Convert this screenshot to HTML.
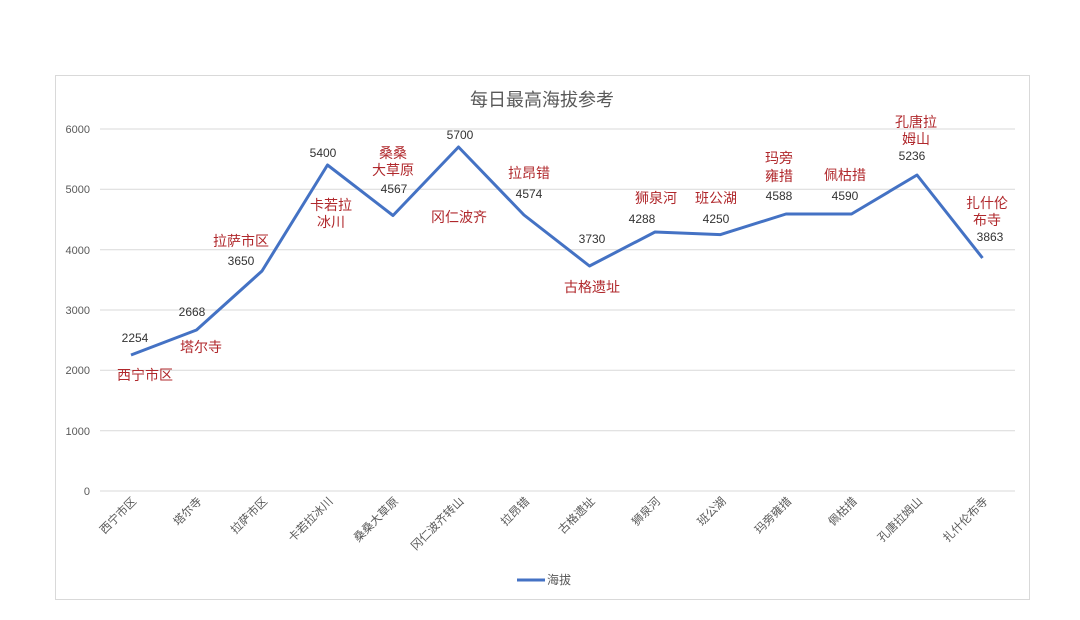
<!DOCTYPE html><html><head><meta charset="utf-8"><style>body{margin:0;background:#fff}svg{display:block;font-family:"Liberation Sans","Noto Sans CJK SC",sans-serif}</style></head><body>
<svg width="1080" height="620" viewBox="0 0 1080 620">
<rect x="55.5" y="75.5" width="974" height="524" fill="#fff" stroke="#d9d9d9"/>
<text x="542" y="106" text-anchor="middle" font-size="18" fill="#595959">每日最高海拔参考</text>
<g stroke="#d9d9d9" stroke-width="1">
<line x1="100" x2="1015" y1="129" y2="129"/><line x1="100" x2="1015" y1="189.3" y2="189.3"/><line x1="100" x2="1015" y1="249.7" y2="249.7"/><line x1="100" x2="1015" y1="310" y2="310"/><line x1="100" x2="1015" y1="370.3" y2="370.3"/><line x1="100" x2="1015" y1="430.7" y2="430.7"/><line x1="100" x2="1015" y1="491" y2="491"/></g>
<g font-size="11" fill="#595959" text-anchor="end">
<text x="90" y="133">6000</text><text x="90" y="193">5000</text><text x="90" y="254">4000</text><text x="90" y="314">3000</text><text x="90" y="374">2000</text><text x="90" y="435">1000</text><text x="90" y="495">0</text></g>
<polyline fill="none" stroke="#4472c4" stroke-width="3" stroke-linejoin="round" points="131,355 196.5,330 262,271 327.5,165 393,215.5 458.5,147 524,215 589.5,266 655,232 720.5,234.6 786,214 851.5,214 917,175 982.5,258"/>
<g font-size="11.5" fill="#595959" text-anchor="end">
<text transform="translate(137,502) rotate(-45)">西宁市区</text>
<text transform="translate(202.5,502) rotate(-45)">塔尔寺</text>
<text transform="translate(268,502) rotate(-45)">拉萨市区</text>
<text transform="translate(333.5,502) rotate(-45)">卡若拉冰川</text>
<text transform="translate(399,502) rotate(-45)">桑桑大草原</text>
<text transform="translate(464.5,502) rotate(-45)">冈仁波齐转山</text>
<text transform="translate(530,502) rotate(-45)">拉昂错</text>
<text transform="translate(595.5,502) rotate(-45)">古格遗址</text>
<text transform="translate(661,502) rotate(-45)">狮泉河</text>
<text transform="translate(726.5,502) rotate(-45)">班公湖</text>
<text transform="translate(792,502) rotate(-45)">玛旁雍措</text>
<text transform="translate(857.5,502) rotate(-45)">佩枯措</text>
<text transform="translate(923,502) rotate(-45)">孔唐拉姆山</text>
<text transform="translate(988.5,502) rotate(-45)">扎什伦布寺</text></g>
<g font-size="12" fill="#333" text-anchor="middle">
<text x="135" y="342">2254</text><text x="192" y="316">2668</text><text x="241" y="265">3650</text><text x="323" y="157">5400</text><text x="394" y="193">4567</text><text x="460" y="139">5700</text><text x="529" y="198">4574</text><text x="592" y="243">3730</text><text x="642" y="223">4288</text><text x="716" y="223">4250</text><text x="779" y="200">4588</text><text x="845" y="200">4590</text><text x="912" y="160">5236</text><text x="990" y="241">3863</text></g>
<g font-size="14" fill="#b0282c" text-anchor="middle">
<text x="145" y="380">西宁市区</text><text x="201" y="352">塔尔寺</text><text x="241" y="246">拉萨市区</text>
<text x="331" y="210">卡若拉</text><text x="331" y="227">冰川</text>
<text x="393" y="158">桑桑</text><text x="393" y="175">大草原</text>
<text x="459" y="222">冈仁波齐</text><text x="529" y="178">拉昂错</text><text x="592" y="292">古格遗址</text>
<text x="656" y="203">狮泉河</text><text x="716" y="203">班公湖</text>
<text x="779" y="163">玛旁</text><text x="779" y="181">雍措</text><text x="845" y="180">佩枯措</text>
<text x="916" y="127">孔唐拉</text><text x="916" y="144">姆山</text>
<text x="987" y="208">扎什伦</text><text x="987" y="225">布寺</text></g>
<line x1="517" x2="545" y1="580" y2="580" stroke="#4472c4" stroke-width="3"/>
<text x="547" y="584" font-size="12" fill="#595959">海拔</text>
</svg></body></html>
